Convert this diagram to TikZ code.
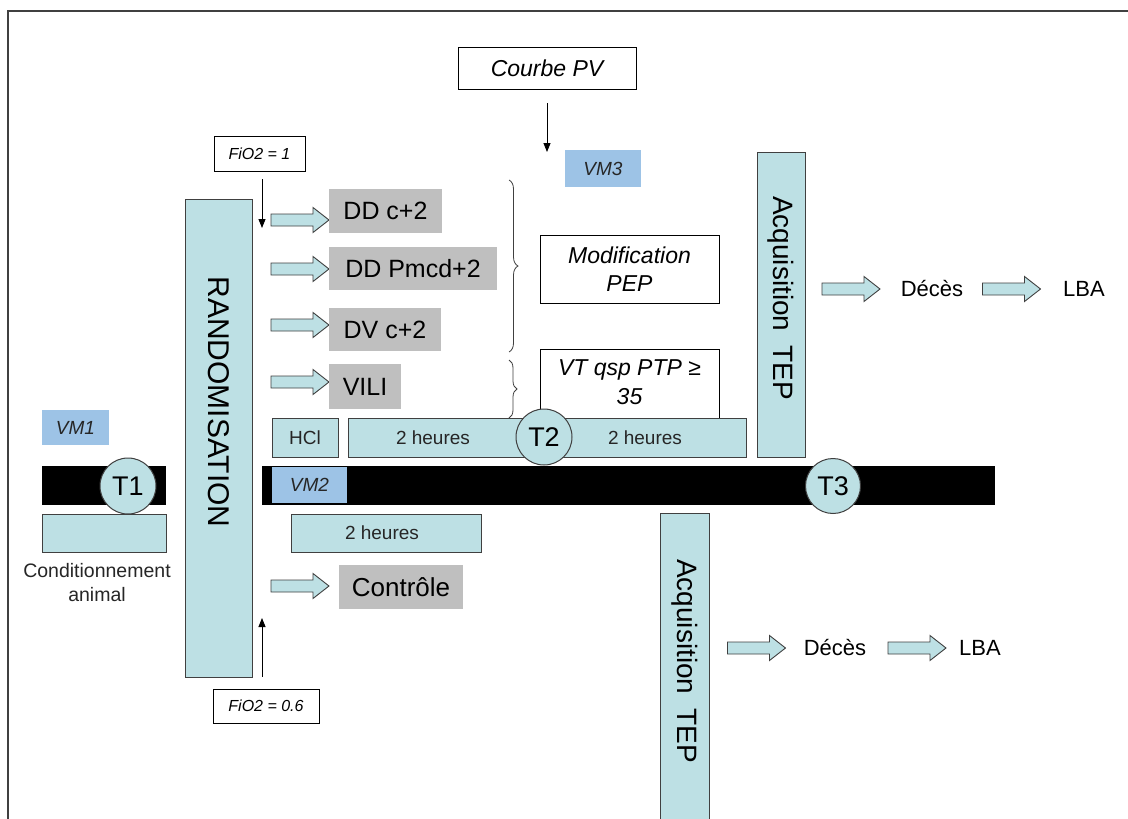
\documentclass[tikz,border=0pt]{standalone}
\usepackage{fontspec}
\setmainfont{Liberation Sans}
\usetikzlibrary{arrows.meta,decorations.pathreplacing}
\definecolor{teal1}{RGB}{189,224,228}
\definecolor{bord}{RGB}{64,64,64}
\definecolor{grayb}{RGB}{191,191,191}
\definecolor{vmblue}{RGB}{157,195,230}
\definecolor{txt}{RGB}{38,38,38}
\newcommand{\fsz}[2]{\fontsize{#1pt}{#2pt}\selectfont}
\begin{document}
\begin{tikzpicture}[x=1pt,y=-1pt,
  tealbox/.style={draw=bord, fill=teal1, line width=1pt, inner sep=0pt},
  graybox/.style={fill=grayb, inner sep=0pt, font=\fsz{25}{30}},
  vmbox/.style={fill=vmblue, inner sep=0pt, text=txt, font=\fsz{19}{23}\itshape},
  whitebox/.style={draw=black, fill=white, line width=0.9pt, inner sep=0pt, align=center},
  tcirc/.style={circle, draw=bord, fill=teal1, line width=1pt, minimum size=56pt, inner sep=0pt, font=\fsz{27}{30}},
  ptr/.style={-{Triangle[width=7pt,length=9pt]}, line width=0.8pt},
  lbl/.style={inner sep=0pt, text=txt},
  bigtxt/.style={inner sep=0pt, font=\fsz{22}{26}},
  brc/.style={decorate, draw=bord, line width=0.8pt},
  pics/barrow/.style={code={\draw[bord, fill=teal1, line width=0.9pt]
     (-29,-6) -- (13,-6) -- (13,-12.5) -- (29,0) -- (13,12.5) -- (13,6) -- (-29,6) -- cycle;}}
]
\useasboundingbox (0,0) rectangle (1128,819);
\fill[white] (0,0) rectangle (1128,819);
% frame
\draw[bord, line width=1.5pt] (8,830) -- (8,11) -- (1140,11);

% Courbe PV
\node[whitebox, minimum width=178pt, minimum height=42pt, font=\fsz{23}{27}\itshape] (courbe) at (547,68) {Courbe PV};
\coordinate (p1) at (547,152);
\draw[ptr, shorten <=14pt] (courbe.south) -- (p1);
\node[vmbox, minimum width=76pt, minimum height=37pt] (vm3) at (603,168.5) {VM3};

% FiO2 = 1
\node[whitebox, minimum width=91pt, minimum height=35pt, font=\fsz{16}{19}\itshape] (fio1) at (259.5,153.5) {FiO2 = 1};
\coordinate (p2) at (262,228);
\draw[ptr, shorten <=8pt] (fio1.south -| p2) -- (p2);

% RANDOMISATION
\node[tealbox, minimum width=67pt, minimum height=478pt] (rand) at (218.5,438) {};
\node[inner sep=0pt, rotate=-90, font=\fsz{30}{34}] (randtxt) at (218.5,402) {RANDOMISATION};

% block arrows and groups
\pic at (300,220) {barrow};
\pic at (300,269) {barrow};
\pic at (300,325) {barrow};
\pic at (300,382) {barrow};
\pic at (300,586) {barrow};
\node[graybox, minimum width=113pt, minimum height=44pt] (ddc) at (385.5,211) {DD c+2};
\node[graybox, minimum width=168pt, minimum height=43pt] (ddp) at (413,268.5) {DD Pmcd+2};
\node[graybox, minimum width=112pt, minimum height=43pt] (dvc) at (385,329.5) {DV c+2};
\node[graybox, minimum width=72pt, minimum height=45pt] (vili) at (365,386.5) {VILI};
\node[graybox, minimum width=124pt, minimum height=44pt, font=\fsz{26}{30}] (ctrl) at (401,587) {Contrôle};

% braces
\draw[brc, decoration={brace, amplitude=9pt}] (509,180) -- (509,352);
\draw[brc, decoration={brace, amplitude=8pt}] (509,360) -- (509,418);

% Modification PEP, VT
\node[whitebox, minimum width=179pt, minimum height=68pt, font=\fsz{23}{28}\itshape] (modif) at (629.5,269) {Modification\\PEP};
\node[whitebox, minimum width=179pt, minimum height=76pt, font=\fsz{23}{29}\itshape, anchor=north] (vt) at (629.5,349) {};
\node[inner sep=0pt, align=center, font=\fsz{23}{29}\itshape] (vttxt) at (629.5,382) {VT qsp PTP ≥\\35};

% HCl and 2 heures bar
\node[tealbox, minimum width=66pt, minimum height=39pt, text=txt, font=\fsz{19}{23}] (hcl) at (305,437.5) {HCl};
\node[tealbox, minimum width=398pt, minimum height=39pt] (h2top) at (547,437.5) {};
\node[lbl, font=\fsz{19}{23}] (h2l) at (433,437.5) {2 heures};
\node[lbl, font=\fsz{19}{23}] (h2r) at (645,437.5) {2 heures};
\node[tcirc] (t2) at (544,437) {T2};

% Acquisition TEP (upper)
\node[tealbox, minimum width=48pt, minimum height=305pt] (acq1) at (781,304.5) {};
\node[inner sep=0pt, rotate=-90, font=\fsz{28}{32}] (acq1txt) at (781,298) {Acquisition\hspace{14pt}TEP};
\pic at (851,289) {barrow};
\node[bigtxt] (dec1) at (932,289) {Décès};
\pic at (1011.5,289) {barrow};
\node[bigtxt] (lba1) at (1084,289) {LBA};

% timeline
\node[vmbox, minimum width=67pt, minimum height=35pt] (vm1) at (75.5,427.5) {VM1};
\node[fill=black, inner sep=0pt, minimum width=124pt, minimum height=39pt] (tl1) at (104,485.5) {};
\node[fill=black, inner sep=0pt, minimum width=733pt, minimum height=39pt] (tl2) at (628.5,485.5) {};
\node[vmbox, minimum width=75pt, minimum height=36pt] (vm2) at (309.5,485) {VM2};
\node[tealbox, minimum width=124pt, minimum height=38pt] (cond) at (104,533) {};
\node[tcirc] (t1) at (128,486) {T1};
\node[tcirc, minimum size=55pt] (t3) at (833,486) {T3};
\node[inner sep=0pt, align=center, text=txt, font=\fsz{19.5}{24}] (condtxt) at (97,583) {Conditionnement\\animal};

\node[tealbox, minimum width=190pt, minimum height=38pt] (h2b) at (386,533) {};
\node[lbl, font=\fsz{19}{23}] (h2btxt) at (382,533) {2 heures};

% FiO2 = 0.6
\node[whitebox, minimum width=106pt, minimum height=34pt, font=\fsz{16}{19}\itshape] (fio2) at (266,706) {FiO2 = 0.6};
\coordinate (p3) at (262,618);
\draw[ptr, shorten <=12pt] (fio2.north -| p3) -- (p3);

% Acquisition TEP (lower)
\node[tealbox, minimum width=49pt, minimum height=330pt, anchor=north] (acq2) at (684.5,513) {};
\node[inner sep=0pt, rotate=-90, font=\fsz{28}{32}] (acq2txt) at (684.5,661) {Acquisition\hspace{14pt}TEP};
\pic at (756.5,648) {barrow};
\node[bigtxt] (dec2) at (835,648) {Décès};
\pic at (917,648) {barrow};
\node[bigtxt] (lba2) at (980,648) {LBA};
\end{tikzpicture}
\end{document}
